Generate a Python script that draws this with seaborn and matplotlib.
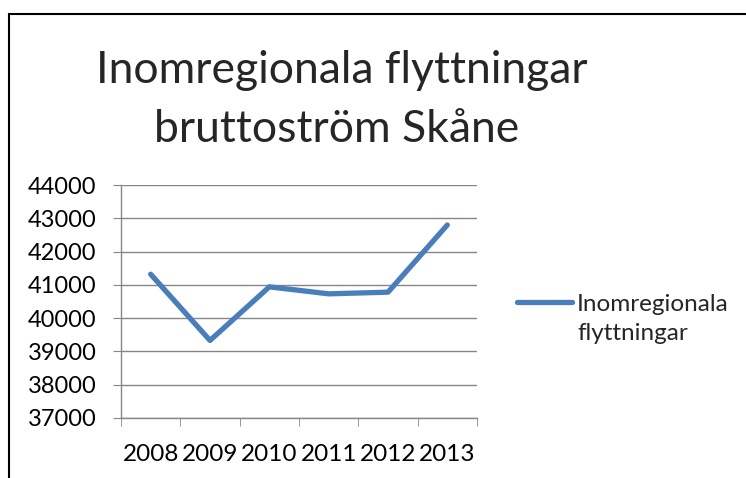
import pandas as pd
import seaborn as sns
import matplotlib.pyplot as plt
from matplotlib.patches import Rectangle

# data
years = ['2008', '2009', '2010', '2011', '2012', '2013']
flyttningar = [41320, 39330, 40940, 40730, 40780, 42800]
series_lines = ['Inomregionala', 'flyttningar']
title_lines = ['Inomregionala flyttningar', 'bruttoström Skåne']

df = pd.DataFrame({'year': years, 'value': flyttningar})

sns.set_style('white')
plt.rcParams['font.family'] = ['Lato', 'DejaVu Sans']

fig = plt.figure(figsize=(7.46, 4.78), dpi=100)
ax = fig.add_axes([121 / 746, 1 - 418 / 478, 356 / 746, 233 / 478])

sns.lineplot(data=df, x='year', y='value', ax=ax, color='#4A7EBB',
             linewidth=3.8, label=series_lines[0], sort=False)
ax.lines[0].set_solid_joinstyle('round')
ax.lines[0].set_solid_capstyle('round')

grey = '#868686'
ax.set_ylim(37000, 44000)
ax.set_yticks(range(37000, 44001, 1000))
ax.set_xlim(-0.5, len(years) - 0.5)
ax.set_xticks(range(len(years)))
ax.set_xticks([i - 0.5 for i in range(len(years) + 1)], minor=True)
ax.yaxis.grid(True, color=grey, linewidth=1)
ax.set_axisbelow(True)
ax.set_xlabel('')
ax.set_ylabel('')
for side in ['top', 'right']:
    ax.spines[side].set_visible(False)
for side in ['left', 'bottom']:
    ax.spines[side].set_color(grey)
    ax.spines[side].set_linewidth(1)
ax.tick_params(axis='y', which='major', left=True, length=5.5, color=grey,
               labelsize=17, labelcolor='black', pad=12)
ax.tick_params(axis='x', which='major', bottom=False, labelsize=17.5,
               labelcolor='black', pad=15)
ax.tick_params(axis='x', which='minor', bottom=True, length=5.5, color=grey)

# legend: handle level with the first line, second line set below it
leg = ax.legend(loc='center left', bbox_to_anchor=(517 / 746, 1 - 304 / 478),
                bbox_transform=fig.transFigure, frameon=False,
                fontsize=17.5, handlelength=2.26, handletextpad=0.2,
                borderaxespad=0, borderpad=0)
leg.get_lines()[0].set_solid_capstyle('round')
fig.text(577 / 746, 1 - 340 / 478, series_lines[1], ha='left',
         va='baseline', fontsize=17.5)

# title, one line at a time
fig.text(342 / 746, 1 - 83 / 478, title_lines[0], ha='center',
         va='baseline', fontsize=32)
fig.text(337 / 746, 1 - 142 / 478, title_lines[1], ha='center',
         va='baseline', fontsize=32)

# chart border (cropped at right and bottom)
fig.patches.append(Rectangle((8.5 / 746, -0.1), 2, 1.1 - 14 / 478,
                             transform=fig.transFigure, fill=False,
                             edgecolor='black', linewidth=1.5))

plt.savefig('out.png', dpi=100)
